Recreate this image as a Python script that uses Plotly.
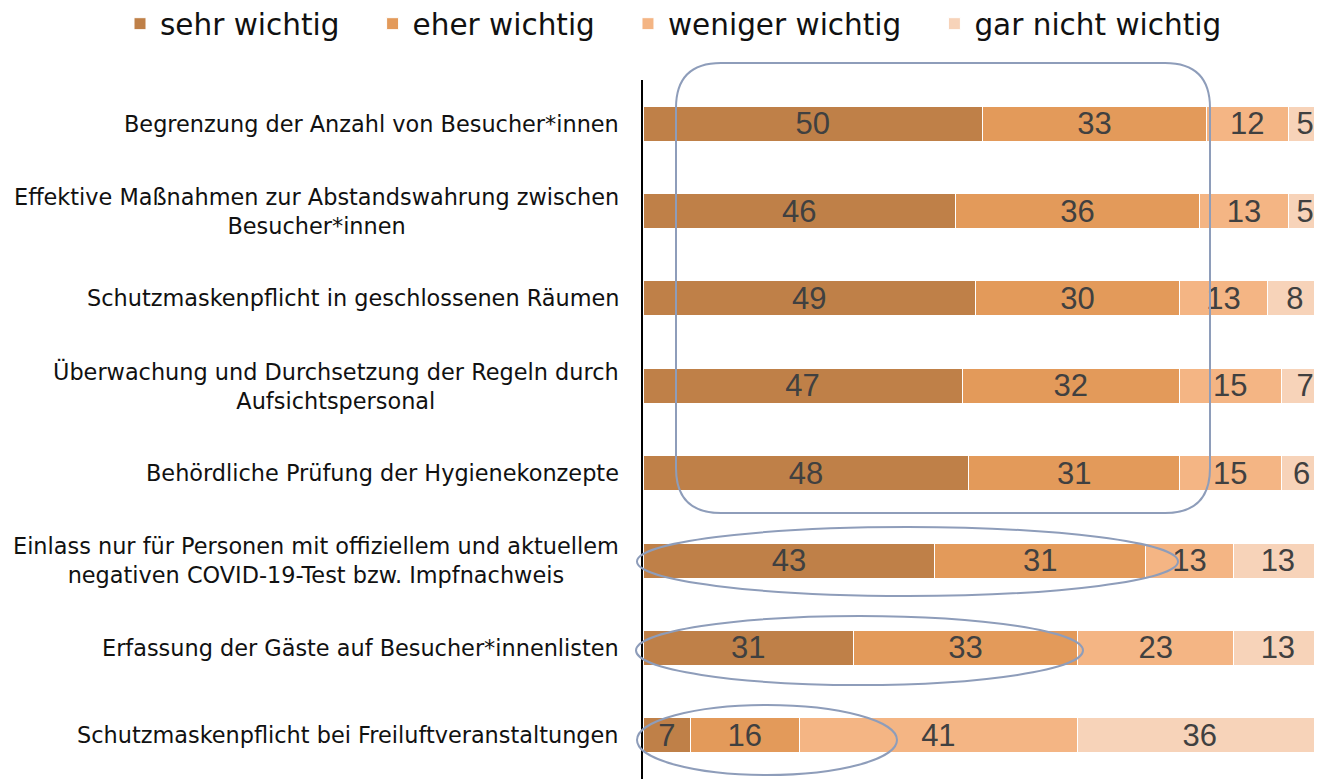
import plotly.graph_objects as go

categories = [
    "Begrenzung der Anzahl von Besucher*innen",
    "Effektive Maßnahmen zur Abstandswahrung zwischen<br>Besucher*innen",
    "Schutzmaskenpflicht in geschlossenen Räumen",
    "Überwachung und Durchsetzung der Regeln durch<br>Aufsichtspersonal",
    "Behördliche Prüfung der Hygienekonzepte",
    "Einlass nur für Personen mit offiziellem und aktuellem<br>negativen COVID-19-Test bzw. Impfnachweis",
    "Erfassung der Gäste auf Besucher*innenlisten",
    "Schutzmaskenpflicht bei Freiluftveranstaltungen",
]
series_names = ["sehr wichtig", "eher wichtig", "weniger wichtig", "gar nicht wichtig"]
sehr_wichtig = [50, 46, 49, 47, 48, 43, 31, 7]
eher_wichtig = [33, 36, 30, 32, 31, 31, 33, 16]
weniger_wichtig = [12, 13, 13, 15, 15, 13, 23, 41]
gar_nicht_wichtig = [5, 5, 8, 7, 6, 13, 13, 36]

series_values = [sehr_wichtig, eher_wichtig, weniger_wichtig, gar_nicht_wichtig]
colors = ["#BF8048", "#E39A5A", "#F4B584", "#F7D3B9"]

FONT = "DejaVu Sans"
VFONT = "Liberation Sans"
OFF = 8  # page body margin of the html page
W, H = 1322 - OFF, 779 - OFF
ML, MR, MT, MB = 643 - OFF, 0, 80 - OFF, 0
PW, PH = W - ML - MR, H - MT - MB

fig = go.Figure()
for name, vals, col in zip(series_names, series_values, colors):
    fig.add_trace(go.Bar(
        y=categories, x=vals, name=name + "\u00a0\u00a0\u00a0", orientation="h",
        marker=dict(color=col, line=dict(color="white", width=1)),
        width=0.4,
        text=[str(v) for v in vals], textposition="inside",
        insidetextanchor="middle", textangle=0,
        textfont=dict(color="#404040", size=31, family=VFONT),
        hoverinfo="skip",
    ))

# category labels as centred multi-line annotations
annotations = []
for c in categories:
    annotations.append(dict(
        x=0, xref="paper", y=c, yref="y", xanchor="right", yanchor="middle",
        xshift=-22, text=c, showarrow=False, align="center",
        font=dict(size=22.4, color="#111111", family=FONT),
    ))

def px2x(px):
    return (px - OFF - ML) / PW

def py2y(py):
    return (H - MB - (py - OFF)) / PH

line = dict(color="#8E9DBA", width=2)
shapes = []
# rounded rectangle
x0, x1 = px2x(676), px2x(1210)
y0, y1 = py2y(513), py2y(63)
rx, ry = 45 / PW, 45 / PH
path = (f"M {x0+rx},{y1} L {x1-rx},{y1} Q {x1},{y1} {x1},{y1-ry} "
        f"L {x1},{y0+ry} Q {x1},{y0} {x1-rx},{y0} L {x0+rx},{y0} "
        f"Q {x0},{y0} {x0},{y0+ry} L {x0},{y1-ry} Q {x0},{y1} {x0+rx},{y1} Z")
shapes.append(dict(type="path", xref="paper", yref="paper", path=path, line=line, layer="above"))
for (ax0, ax1, ay0, ay1) in [(637, 1178, 596, 527), (636, 1083, 685, 616), (637, 897, 775, 705)]:
    shapes.append(dict(type="circle", xref="paper", yref="paper",
                       x0=px2x(ax0), x1=px2x(ax1), y0=py2y(ay0), y1=py2y(ay1),
                       line=line, layer="above"))

fig.update_layout(
    width=W, height=H,
    barmode="stack",
    margin=dict(l=ML, r=MR, t=MT, b=MB, autoexpand=False),
    paper_bgcolor="white", plot_bgcolor="white",
    font=dict(family=FONT, color="#111111"),
    uniformtext=dict(minsize=29, mode="show"),
    legend=dict(orientation="h", x=px2x(120), xanchor="left",
                y=py2y(-2), yanchor="top", font=dict(size=29.5, family=FONT, color="#111111"),
                traceorder="normal", itemwidth=30),
    xaxis=dict(range=[0, 100], visible=False, fixedrange=True),
    yaxis=dict(showticklabels=False, showgrid=False, zeroline=False,
               showline=True, linecolor="black", linewidth=1.5,
               range=[7.5, -0.5], ticks=""),
    annotations=annotations,
    shapes=shapes,
)

fig.write_html("out.html")
